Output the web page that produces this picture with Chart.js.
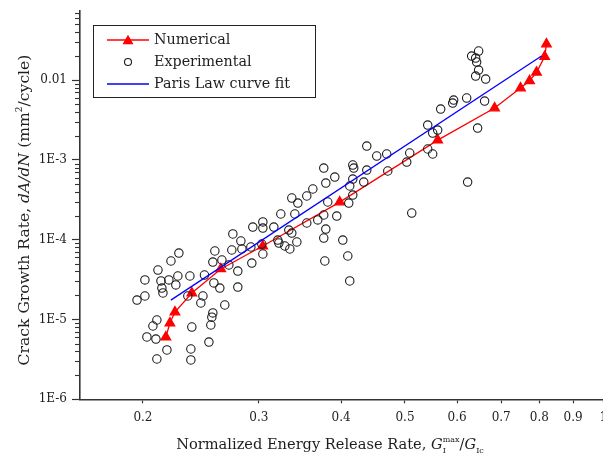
<!DOCTYPE html>
<html><head><meta charset="utf-8">
<script src="https://cdn.jsdelivr.net/npm/chart.js@4.4.0/dist/chart.umd.min.js"></script>
<style>
html,body{margin:0;padding:0;background:#fff;overflow:hidden;width:603px;height:458px;}
#wrap{width:610px;height:458px;}
</style></head><body>
<div id="wrap"><canvas id="c" width="610" height="458"></canvas></div>
<script>
// ---- data ----
const seriesNames = ['Numerical', 'Experimental', 'Paris Law curve fit'];

const numX = [0.2167, 0.2198, 0.2237, 0.2373, 0.2626, 0.3041, 0.398, 0.5606, 0.684, 0.749, 0.773, 0.792, 0.815, 0.820];
const numY = [6.04e-6, 9.04e-6, 1.24e-5, 2.15e-5, 4.30e-5, 8.34e-5, 2.96e-4, 1.77e-3, 4.47e-3, 7.96e-3, 9.82e-3, 1.253e-2, 1.978e-2, 2.83e-2];

const expX = [
  0.1959, 0.2014, 0.2014, 0.2108, 0.2206, 0.2268, 0.2130, 0.2137, 0.2145, 0.2190,
  0.2244, 0.2260, 0.2357, 0.2340, 0.2467, 0.2449, 0.2663, 0.2554, 0.2545, 0.2536,
  0.2373, 0.2519, 0.2175, 0.2365, 0.2365, 0.2100, 0.2028, 0.2093, 0.2071, 0.2100,
  0.2572, 0.2554, 0.2636, 0.2701, 0.2787, 0.2563, 0.2617, 0.2787, 0.2729, 0.2817,
  0.2827, 0.2739, 0.2480,
  0.2937, 0.3042, 0.3042, 0.3161, 0.3239, 0.3331, 0.3366, 0.3402, 0.3547, 0.3686,
  0.3764, 0.3939, 0.3791, 0.3764, 0.4023, 0.3205, 0.3217, 0.3285, 0.3343, 0.3426,
  0.3031, 0.2917, 0.3042, 0.2927, 0.3778, 0.4094, 0.4122, 0.3366, 0.3438, 0.3547,
  0.3623, 0.3817, 0.3764, 0.3912, 0.3791, 0.4166, 0.4180, 0.4166, 0.4122, 0.4166,
  0.4108, 0.4329,
  0.4375, 0.4530, 0.4691, 0.4375, 0.4708, 0.5084, 0.5031, 0.5414, 0.5509, 0.5606,
  0.5414, 0.5509, 0.5665, 0.5120,
  0.5908, 0.5928, 0.6204, 0.6606, 0.6446, 0.6225, 0.6313, 0.6402, 0.6469, 0.6424,
  0.6469, 0.6402, 0.6630
];
const expY = [
  1.75e-5, 1.97e-5, 3.13e-5, 4.17e-5, 5.41e-5, 6.81e-5, 3.04e-5, 2.48e-5, 2.15e-5, 3.13e-5,
  2.71e-5, 3.51e-5, 3.51e-5, 1.97e-5, 1.97e-5, 1.61e-5, 1.52e-5, 1.21e-5, 1.07e-5, 8.53e-6,
  8.05e-6, 5.22e-6, 4.15e-6, 4.27e-6, 3.11e-6, 3.20e-6, 6.04e-6, 5.69e-6, 8.29e-6, 9.86e-6,
  7.22e-5, 5.25e-5, 5.57e-5, 4.82e-5, 4.05e-5, 2.87e-5, 2.48e-5, 2.55e-5, 7.43e-5, 9.63e-5,
  7.65e-5, 1.18e-4, 3.61e-5,
  1.44e-4, 1.67e-4, 1.40e-4, 1.44e-4, 2.10e-4, 1.32e-4, 1.21e-4, 2.10e-4, 1.62e-4, 1.77e-4,
  2.04e-4, 1.98e-4, 1.36e-4, 1.05e-4, 9.91e-5, 9.91e-5, 9.09e-5, 8.34e-5, 7.65e-5, 9.36e-5,
  8.83e-5, 8.10e-5, 6.62e-5, 5.10e-5, 5.41e-5, 6.25e-5, 3.04e-5, 3.33e-4, 2.88e-4, 3.53e-4,
  4.32e-4, 2.97e-4, 7.91e-4, 6.10e-4, 5.13e-4, 8.63e-4, 7.91e-4, 5.76e-4, 4.71e-4, 3.63e-4,
  2.88e-4, 5.28e-4,
  1.493e-3, 1.119e-3, 1.186e-3, 7.47e-4, 7.26e-4, 1.221e-3, 9.41e-4, 2.737e-3, 2.173e-3, 2.369e-3,
  1.370e-3, 1.186e-3, 4.343e-3, 2.16e-4,
  5.164e-3, 5.631e-3, 5.967e-3, 5.471e-3, 2.510e-3, 5.28e-4, 2.004e-2, 1.891e-2, 2.316e-2, 1.686e-2,
  1.338e-2, 1.125e-2, 1.032e-2
];

const parisX = [0.2205, 0.806];
const parisY = [1.75e-5, 2.004e-2];

const xTickVals = [0.2, 0.3, 0.4, 0.5, 0.6, 0.7, 0.8, 0.9, 1];
const xTickLabels = ['0.2', '0.3', '0.4', '0.5', '0.6', '0.7', '0.8', '0.9', '1'];
const yTickVals = [1e-6, 1e-5, 1e-4, 1e-3, 1e-2];
const yTickLabels = ['1E-6', '1E-5', '1E-4', '1E-3', '0.01'];

// ---- drawing ----
const FONT = '"DejaVu Serif", "Liberation Serif", serif';
const TXT = '#1e1e1e';
const pts = (xs, ys) => xs.map((x, i) => ({x: x, y: ys[i]}));

function layoutParts(ctx, parts) {
  let w = 0, stackX = 0, stackMax = 0;
  const out = [];
  for (const p of parts) {
    ctx.font = (p.it ? 'italic ' : '') + p.sz + 'px ' + FONT;
    const pw = ctx.measureText(p.t).width;
    if (p.stack) {
      out.push(Object.assign({}, p, {x: stackX}));
      stackMax = Math.max(stackMax, pw);
      w = Math.max(w, stackX + stackMax);
    } else {
      out.push(Object.assign({}, p, {x: w}));
      stackX = w; stackMax = pw; w += pw;
    }
  }
  return {out, w};
}
function drawParts(ctx, parts, cx, baseY) {
  const L = layoutParts(ctx, parts);
  const x0 = cx - L.w / 2;
  ctx.fillStyle = TXT;
  ctx.textBaseline = 'alphabetic';
  ctx.textAlign = 'left';
  for (const p of L.out) {
    ctx.font = (p.it ? 'italic ' : '') + p.sz + 'px ' + FONT;
    ctx.fillText(p.t, x0 + p.x, baseY + (p.dy || 0));
  }
}

const extras = {
  id: 'extras',
  afterDraw(chart) {
    const ctx = chart.ctx;
    const ys = chart.scales.y;
    ctx.save();
    // minor ticks on y axis
    ctx.strokeStyle = '#333'; ctx.lineWidth = 1.1;
    for (let k = -6; k <= -2; k++) {
      for (let m = 2; m <= 9; m++) {
        const v = m * Math.pow(10, k);
        if (v > ys.max) continue;
        const p = Math.round(ys.getPixelForValue(v)) + 0.5;
        ctx.beginPath(); ctx.moveTo(ys.right - 5, p); ctx.lineTo(ys.right, p); ctx.stroke();
      }
    }
    // axis titles
    drawParts(ctx, [
      {t: 'Normalized Energy Release Rate, ', sz: 14.6},
      {t: 'G', sz: 14.6, it: true},
      {t: 'max', sz: 8, dy: -7},
      {t: 'I', sz: 8, dy: 4, stack: true},
      {t: '/', sz: 14.6},
      {t: 'G', sz: 14.6, it: true},
      {t: 'Ic', sz: 8, dy: 4}
    ], 330, 449);
    ctx.save();
    ctx.translate(29, 210);
    ctx.rotate(-Math.PI / 2);
    drawParts(ctx, [
      {t: 'Crack Growth Rate, ', sz: 15.6},
      {t: 'dA/dN', sz: 15.6, it: true},
      {t: ' (mm', sz: 15.6},
      {t: '2', sz: 9, dy: -7},
      {t: '/cycle)', sz: 15.6}
    ], 0, 0);
    ctx.restore();
    // legend
    ctx.strokeStyle = '#222'; ctx.lineWidth = 1;
    ctx.strokeRect(93.5, 25.5, 222, 72);
    const rows = [40, 62, 84];
    const ds = chart.data.datasets;
    ctx.textBaseline = 'middle'; ctx.textAlign = 'left';
    ds.forEach((d, r) => {
      const y = rows[r];
      if (d.showLine) {
        ctx.strokeStyle = d.borderColor; ctx.lineWidth = 1.3;
        ctx.beginPath(); ctx.moveTo(107, y); ctx.lineTo(149, y); ctx.stroke();
      }
      if (d.pointRadius > 0) {
        ctx.strokeStyle = d.borderColor;
        ctx.lineWidth = d.borderWidth;
        ctx.beginPath();
        if (d.pointStyle === 'triangle') {
          ctx.fillStyle = d.backgroundColor;
          const r = 5;
          for (let a = 0; a < 3; a++) {
            const ang = -Math.PI / 2 + a * 2 * Math.PI / 3;
            const px = 128 + Math.cos(ang) * r, py = y + 1 + Math.sin(ang) * r;
            if (a === 0) ctx.moveTo(px, py); else ctx.lineTo(px, py);
          }
          ctx.closePath(); ctx.fill(); ctx.stroke();
        } else {
          ctx.arc(128, y, 3.5, 0, Math.PI * 2); ctx.stroke();
        }
      }
      ctx.fillStyle = TXT;
      ctx.font = '14.3px ' + FONT;
      ctx.fillText(d.label, 154, y);
    });
    ctx.restore();
  }
};

new Chart(document.getElementById('c'), {
  type: 'scatter',
  data: {
    datasets: [
      {
        label: seriesNames[0], type: 'line', data: pts(numX, numY),
        borderColor: '#ff0000', backgroundColor: '#ff0000',
        pointStyle: 'triangle', pointRadius: 5.5, borderWidth: 1.3,
        pointBackgroundColor: '#ff0000', pointBorderColor: '#ff0000',
        showLine: true, fill: false, tension: 0, order: 3
      },
      {
        label: seriesNames[1], data: pts(expX, expY),
        borderColor: '#1a1a1a', backgroundColor: 'rgba(0,0,0,0)',
        pointStyle: 'circle', pointRadius: 4.2, borderWidth: 1.1,
        showLine: false, order: 2
      },
      {
        label: seriesNames[2], type: 'line', data: pts(parisX, parisY),
        borderColor: '#0000ff', backgroundColor: '#0000ff',
        pointRadius: 0, borderWidth: 1.3, showLine: true, fill: false, order: 1
      }
    ]
  },
  options: {
    responsive: false, animation: false,
    layout: {padding: {top: 11, right: 6.4, left: 0, bottom: 0}},
    plugins: {legend: {display: false}, tooltip: {enabled: false}},
    scales: {
      x: {
        type: 'logarithmic', min: 0.1605, max: 1.0,
        afterFit: s => { s.height = 58.7; s.paddingLeft = 0; s.paddingRight = 0; },
        afterBuildTicks: s => { s.ticks = xTickVals.map(v => ({value: v})); },
        grid: {drawOnChartArea: false, drawTicks: true, tickLength: 4, tickColor: '#333', tickWidth: 1.2},
        border: {display: true, color: '#333', width: 1.6},
        ticks: {autoSkip: false, maxRotation: 0, minRotation: 0, padding: 7, color: TXT,
          font: {family: FONT, size: 12},
          callback: (v, i) => xTickLabels[i]}
      },
      y: {
        type: 'logarithmic', min: 1e-6, max: 0.0735,
        afterFit: s => { s.width = 80; s.paddingTop = 0; s.paddingBottom = 0; },
        afterBuildTicks: s => { s.ticks = yTickVals.map(v => ({value: v})); },
        grid: {drawOnChartArea: false, drawTicks: true, tickLength: 8, tickColor: '#333', tickWidth: 1.2},
        border: {display: true, color: '#333', width: 1.6},
        ticks: {autoSkip: false, padding: 5, color: TXT,
          font: {family: FONT, size: 12},
          callback: (v, i) => yTickLabels[i]}
      }
    }
  },
  plugins: [extras]
});
</script>
</body></html>
